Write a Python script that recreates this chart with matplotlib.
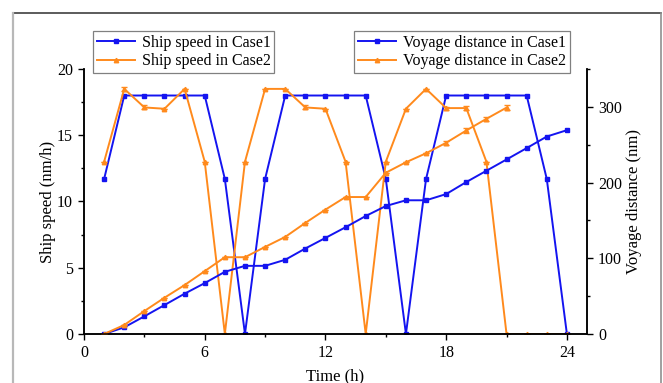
import numpy as np
import matplotlib

matplotlib.use("Agg")
import matplotlib.pyplot as plt
from matplotlib.lines import Line2D
from matplotlib.ticker import MultipleLocator

# ------------------------------------------------------------------
# dati
hours = list(range(1, 25))

speed_case1 = [11.7, 18, 18, 18, 18, 18, 11.7, 0, 11.7, 18, 18, 18,
               18, 18, 11.7, 0, 11.7, 18, 18, 18, 18, 18, 11.7, 0]
speed_case2 = [13, 18.5, 17.1, 17, 18.5, 13, 0, 13, 18.5, 18.5, 17.1, 17,
               13, 0, 13, 17, 18.5, 17.05, 17.05, 13, 0, 0, 0, 0]
speed_case2_err = [0, 0.15, 0.15, 0, 0, 0, 0, 0, 0, 0, 0.15, 0,
                   0, 0, 0, 0, 0, 0.12, 0.15, 0, 0, 0, 0, 0]

dist_hours_case1 = hours
dist_case1 = [0, 8.8, 23.3, 38.2, 53.2, 67.2, 82.1, 90, 90, 98, 112.9, 126.9,
              141, 155.8, 169, 176.6, 176.6, 184.8, 200.7, 215.6, 230.5, 245.5,
              260.8, 269.2]
dist_hours_case2 = list(range(1, 22))
dist_case2 = [0, 11.9, 30.3, 47.9, 64.6, 83, 101.4, 101.4, 115, 128.2, 146.7,
              164.3, 180.9, 180.9, 213, 226.8, 238.7, 252.6, 268.8, 284.2, 299]
dist_case2_err = [0, 0, 0, 0, 0, 0, 0, 0, 0, 0, 0, 0,
                  0, 0, 0, 0, 0, 2.5, 3, 3, 3.5]

BLUE = "#1414f0"
ORANGE = "#ff8a1c"

plt.rcParams["font.family"] = ["Liberation Serif", "DejaVu Serif"]

fig = plt.figure(figsize=(6.63, 3.83), dpi=100)
ax = fig.add_axes([0.1267, 0.128, 0.8854 - 0.1267, 0.8198 - 0.128])
ax2 = ax.twinx()

line_kw = dict(lw=1.4)
err_kw = dict(fmt="none", ecolor=ORANGE, capsize=2, elinewidth=0.8)

# velocita' (asse sinistro)
ax.plot(hours, speed_case1, "-s", color=BLUE, ms=2.6, label="Ship speed in Case1", **line_kw)
ax.plot(hours, speed_case2, "-^", color=ORANGE, ms=3.2, label="Ship speed in Case2", **line_kw)
ax.errorbar(hours, speed_case2, yerr=speed_case2_err, **err_kw)

# distanza (asse destro)
ax2.plot(dist_hours_case1, dist_case1, "-s", color=BLUE, ms=2.6,
         label="Voyage distance in Case1", **line_kw)
ax2.plot(dist_hours_case2, dist_case2, "-^", color=ORANGE, ms=3.2,
         label="Voyage distance in Case2", **line_kw)
ax2.errorbar(dist_hours_case2, dist_case2, yerr=dist_case2_err, **err_kw)

ax.set_xlim(0, 25)
ax.set_ylim(0, 20)
ax2.set_ylim(0, 350)
ax.xaxis.set_major_locator(MultipleLocator(6))
ax.xaxis.set_minor_locator(MultipleLocator(3))
ax.yaxis.set_major_locator(MultipleLocator(5))
ax.yaxis.set_minor_locator(MultipleLocator(2.5))
ax2.yaxis.set_major_locator(MultipleLocator(100))
ax2.yaxis.set_minor_locator(MultipleLocator(50))

for a in (ax, ax2):
    a.spines["top"].set_visible(False)
    for s in a.spines.values():
        s.set_linewidth(1.1)
    a.tick_params(which="major", direction="out", length=4.5, width=1.0, labelsize=11.5)
    a.tick_params(which="minor", direction="out", length=2.5, width=1.0)

ax.set_xlabel("Time (h)", fontsize=12, labelpad=5)
ax.set_ylabel("Ship speed (nm/h)", fontsize=12, labelpad=1)
ax2.set_ylabel("Voyage distance (nm)", fontsize=12, labelpad=3)

leg_kw = dict(loc="upper left", bbox_transform=fig.transFigure, fontsize=11.5,
              fancybox=False, framealpha=1, edgecolor="#808080", borderaxespad=0,
              handlelength=2.4, labelspacing=0.15, borderpad=0.25, handletextpad=0.4,
              numpoints=1)
l1 = ax.legend(bbox_to_anchor=(0.140, 0.919), **leg_kw)
l2 = ax2.legend(bbox_to_anchor=(0.534, 0.919), **leg_kw)
for l in (l1, l2):
    l.get_frame().set_linewidth(0.9)

# cornice esterna della figura
fig.add_artist(Line2D([0.0196, 0.997], [0.965, 0.965], color="#404040", lw=1.2))
fig.add_artist(Line2D([0.0196, 0.0196], [0.0, 0.965], color="#b8b8b8", lw=1.6))
fig.add_artist(Line2D([0.997, 0.997], [0.0, 0.965], color="#909090", lw=1.2))

fig.savefig("out.png", dpi=100)
plt.close(fig)
